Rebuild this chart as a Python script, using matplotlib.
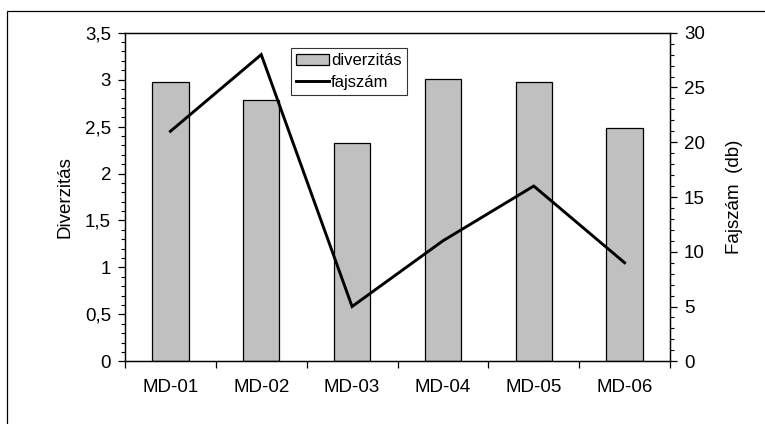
import matplotlib
matplotlib.use("Agg")
import matplotlib.pyplot as plt
from matplotlib.ticker import MultipleLocator, FuncFormatter
from matplotlib.patches import Rectangle

categories = ["MD-01", "MD-02", "MD-03", "MD-04", "MD-05", "MD-06"]
diverzitas = [2.98, 2.78, 2.32, 3.01, 2.98, 2.48]
fajszam = [21, 28, 5, 11, 16, 9]

plt.rcParams['font.family'] = ['Liberation Sans', 'DejaVu Sans']
FS = 13.5
LFS = 12

W, H = 765, 424
fig = plt.figure(figsize=(W / 100, H / 100), dpi=100)
L, R, T, B = 125, 670, 32.7, 361.3
ax = fig.add_axes([L / W, 1 - B / H, (R - L) / W, (B - T) / H])

x = list(range(len(categories)))
ax.bar(x, diverzitas, width=0.4, color="#c0c0c0", edgecolor="black",
       linewidth=0.9, label="diverzitás", zorder=2)
ax.set_xlim(-0.5, len(categories) - 0.5)
ax.set_ylim(0, 3.5)
ax.yaxis.set_major_locator(MultipleLocator(0.5))
ax.yaxis.set_minor_locator(MultipleLocator(0.1))
ax.yaxis.set_major_formatter(FuncFormatter(lambda v, p: ("%g" % v).replace(".", ",")))
ax.set_xticks(x)
ax.set_xticklabels(categories, fontsize=FS)
ax.set_xticks([i + 0.5 for i in range(-1, len(categories))], minor=True)
ax.tick_params(axis="x", which="major", length=0, pad=13)
ax.tick_params(axis="x", which="minor", length=5, width=0.9, direction="out")
ax.tick_params(axis="y", which="major", length=5, width=0.9, labelsize=FS,
               direction="out", pad=5)
ax.tick_params(axis="y", which="minor", length=3, width=0.8, direction="out")
ax.set_ylabel("Diverzitás", fontsize=FS, labelpad=8)
for s in ax.spines.values():
    s.set_linewidth(0.9)

ax2 = ax.twinx()
ln, = ax2.plot(x, fajszam, color="black", linewidth=2.1, label="fajszám",
               solid_joinstyle="miter", zorder=3)
ax2.set_ylim(0, 30)
ax2.yaxis.set_major_locator(MultipleLocator(5))
ax2.yaxis.set_minor_locator(MultipleLocator(1))
ax2.tick_params(axis="y", which="major", length=5, width=0.9, labelsize=FS,
                direction="out", pad=5)
ax2.tick_params(axis="y", which="minor", length=3, width=0.8, direction="out")
ax2.set_ylabel("Fajszám  (db)", fontsize=FS, labelpad=15)
for s in ax2.spines.values():
    s.set_linewidth(0.9)

h1, l1 = ax.get_legend_handles_labels()
h2, l2 = ax2.get_legend_handles_labels()
leg = ax2.legend(h1 + h2, l1 + l2, loc="upper left",
                 bbox_to_anchor=((291 - L) / (R - L), (B - 48.3) / (B - T)),
                 fontsize=LFS, frameon=True, fancybox=False, edgecolor="black",
                 borderpad=0.3, handlelength=2.0, handletextpad=0.1,
                 labelspacing=0.4, borderaxespad=0)
leg.get_frame().set_linewidth(0.8)

fig.patches.append(Rectangle((7 / W, -0.1), 1.2, 1 - 11 / H + 0.1,
                             transform=fig.transFigure, fill=False,
                             edgecolor="black", linewidth=0.9))

fig.savefig("out.png", dpi=100)
